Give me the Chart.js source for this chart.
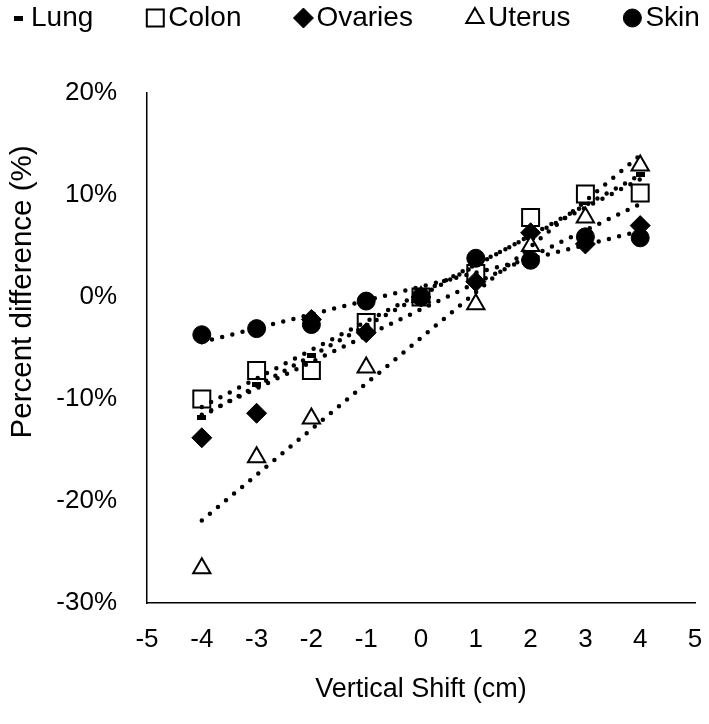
<!DOCTYPE html>
<html>
<head>
<meta charset="utf-8">
<script src="https://cdn.jsdelivr.net/npm/chart.js@4.4.1/dist/chart.umd.min.js"></script>
<style>
html, body { margin: 0; padding: 0; background: #fff; }
</style>
</head>
<body>
<canvas id="chart" width="709" height="724"></canvas>
<script>
/* values, percent difference per vertical shift */
const shifts = [-4, -3, -2, -1, 0, 1, 2, 3, 4]
const lung = [-11.8, -8.6, -5.7, -2.6, 0, 2.8, 5.8, 9.3, 12.0]
const colon = [-10.0, -7.2, -7.2, -2.5, 0, 2.3, 7.8, 10.1, 10.2]
const ovaries = [-13.8, -11.4, -2.2, -3.5, 0, 1.5, 6.3, 5.2, 7.0]
const uterus = [-26.6, -15.7, -11.9, -6.9, 0, -0.7, 5.0, 7.8, 12.9]
const skin = [-3.7, -3.1, -2.7, -0.4, 0, 3.8, 3.6, 5.9, 5.8]
const organs = ['Lung', 'Colon', 'Ovaries', 'Uterus', 'Skin']
const xRange = [-5, 5]
const yRange = [-30, 20]

const font = '"Liberation Sans", Arial, sans-serif'

// little dash used as the lung marker
const dash = document.createElement('canvas')
dash.width = 9
dash.height = 5
const dctx = dash.getContext('2d')
dctx.fillStyle = '#000'
dctx.fillRect(0, 0, 9, 5)

const markers = [
	{ style: dash, radius: 5, bg: '#000', bw: 0 },
	{ style: 'rect', radius: 12, bg: '#fff', bw: 2 },
	{ style: 'rectRot', radius: 10, bg: '#000', bw: 1 },
	{ style: 'triangle', radius: 10, bg: '#fff', bw: 2 },
	{ style: 'circle', radius: 9, bg: '#000', bw: 1 }
]

// linear (least squares) trend through each series, drawn from first to last shift
const trend = (ys) => {
	const n = shifts.length
	const mx = shifts.reduce((a, b) => a + b, 0) / n
	const my = ys.reduce((a, b) => a + b, 0) / n
	let sxy = 0
	let sxx = 0
	shifts.forEach((x, i) => {
		sxy += (x - mx) * (ys[i] - my)
		sxx += (x - mx) * (x - mx)
	})
	const b = sxy / sxx
	const a = my - b * mx
	const x0 = shifts[0]
	const x1 = shifts[n - 1]
	return [{ x: x0, y: a + b * x0 }, { x: x1, y: a + b * x1 }]
}

const series = [lung, colon, ovaries, uterus, skin]

// later series sit on top of earlier ones, trend dots over everything
const pointSets = series.map((vals, i) => ({
	type: 'scatter',
	label: organs[i],
	data: shifts.map((x, j) => ({ x, y: vals[j] })),
	showLine: false,
	pointStyle: markers[i].style,
	pointRadius: markers[i].radius,
	pointHoverRadius: markers[i].radius,
	pointBackgroundColor: markers[i].bg,
	pointBorderColor: '#000',
	pointBorderWidth: markers[i].bw,
	order: series.length - i
}))

const trendSets = series.map((vals, i) => ({
	type: 'line',
	label: organs[i] + ' trend',
	isTrend: true,
	data: trend(vals),
	borderColor: '#000',
	borderWidth: 4.5,
	borderDash: [0, 10.5],
	borderCapStyle: 'round',
	pointRadius: 0,
	fill: false,
	order: 0
}))

/* legend row across the top plus the rotated y title */
const labelsPlugin = {
	id: 'organLabels',
	afterDraw(chart) {
		const ctx = chart.ctx
		ctx.save()
		ctx.font = '28px ' + font
		ctx.textBaseline = 'alphabetic'
		let x = 18
		const gap = 62
		chart.data.datasets.filter((d) => !d.isTrend).forEach((d) => {
			ctx.fillStyle = d.pointBackgroundColor
			ctx.strokeStyle = d.pointBorderColor
			ctx.lineWidth = d.pointBorderWidth
			Chart.helpers.drawPoint(ctx, {
				pointStyle: d.pointStyle,
				radius: d.pointRadius,
				borderWidth: d.pointBorderWidth,
				rotation: 0
			}, x, 18)
			ctx.fillStyle = '#000'
			ctx.fillText(d.label, x + 13, 26)
			x += 13 + ctx.measureText(d.label).width + gap
		})

		const ya = chart.scales.y
		ctx.translate(23, ya.getPixelForValue(0.5))
		ctx.rotate(-Math.PI / 2)
		ctx.font = '29.5px ' + font
		ctx.textAlign = 'center'
		ctx.textBaseline = 'middle'
		ctx.fillText('Percent difference (%)', 0, 0)
		ctx.restore()
	}
}

new Chart(document.getElementById('chart'), {
	data: { datasets: [...pointSets, ...trendSets] },
	options: {
		responsive: false,
		animation: false,
		layout: { padding: { top: 93, right: -6, bottom: 0, left: 0 } },
		plugins: {
			legend: { display: false },
			tooltip: { enabled: false }
		},
		scales: {
			x: {
				type: 'linear',
				min: xRange[0],
				max: xRange[1],
				grid: { display: false, drawTicks: false },
				border: { display: true, color: '#000', width: 1.5 },
				ticks: {
					stepSize: 1,
					padding: 0,
					color: '#000',
					font: { family: font, size: 26, lineHeight: 2.85 }
				},
				title: {
					display: true,
					text: 'Vertical Shift (cm)',
					color: '#000',
					font: { family: font, size: 27 },
					padding: { top: 0, bottom: 18 }
				},
				afterFit: (scale) => {
					scale.height = 121
					scale.paddingRight = 0
				}
			},
			y: {
				type: 'linear',
				min: yRange[0],
				max: yRange[1],
				grid: { display: false, drawTicks: false },
				border: { display: true, color: '#000', width: 1.5 },
				ticks: {
					stepSize: 10,
					padding: 30,
					color: '#000',
					font: { family: font, size: 26 },
					callback: (v) => v + '%'
				},
				afterFit: (scale) => { scale.width = 147 }
			}
		}
	},
	plugins: [labelsPlugin]
})
</script>
</body>
</html>
